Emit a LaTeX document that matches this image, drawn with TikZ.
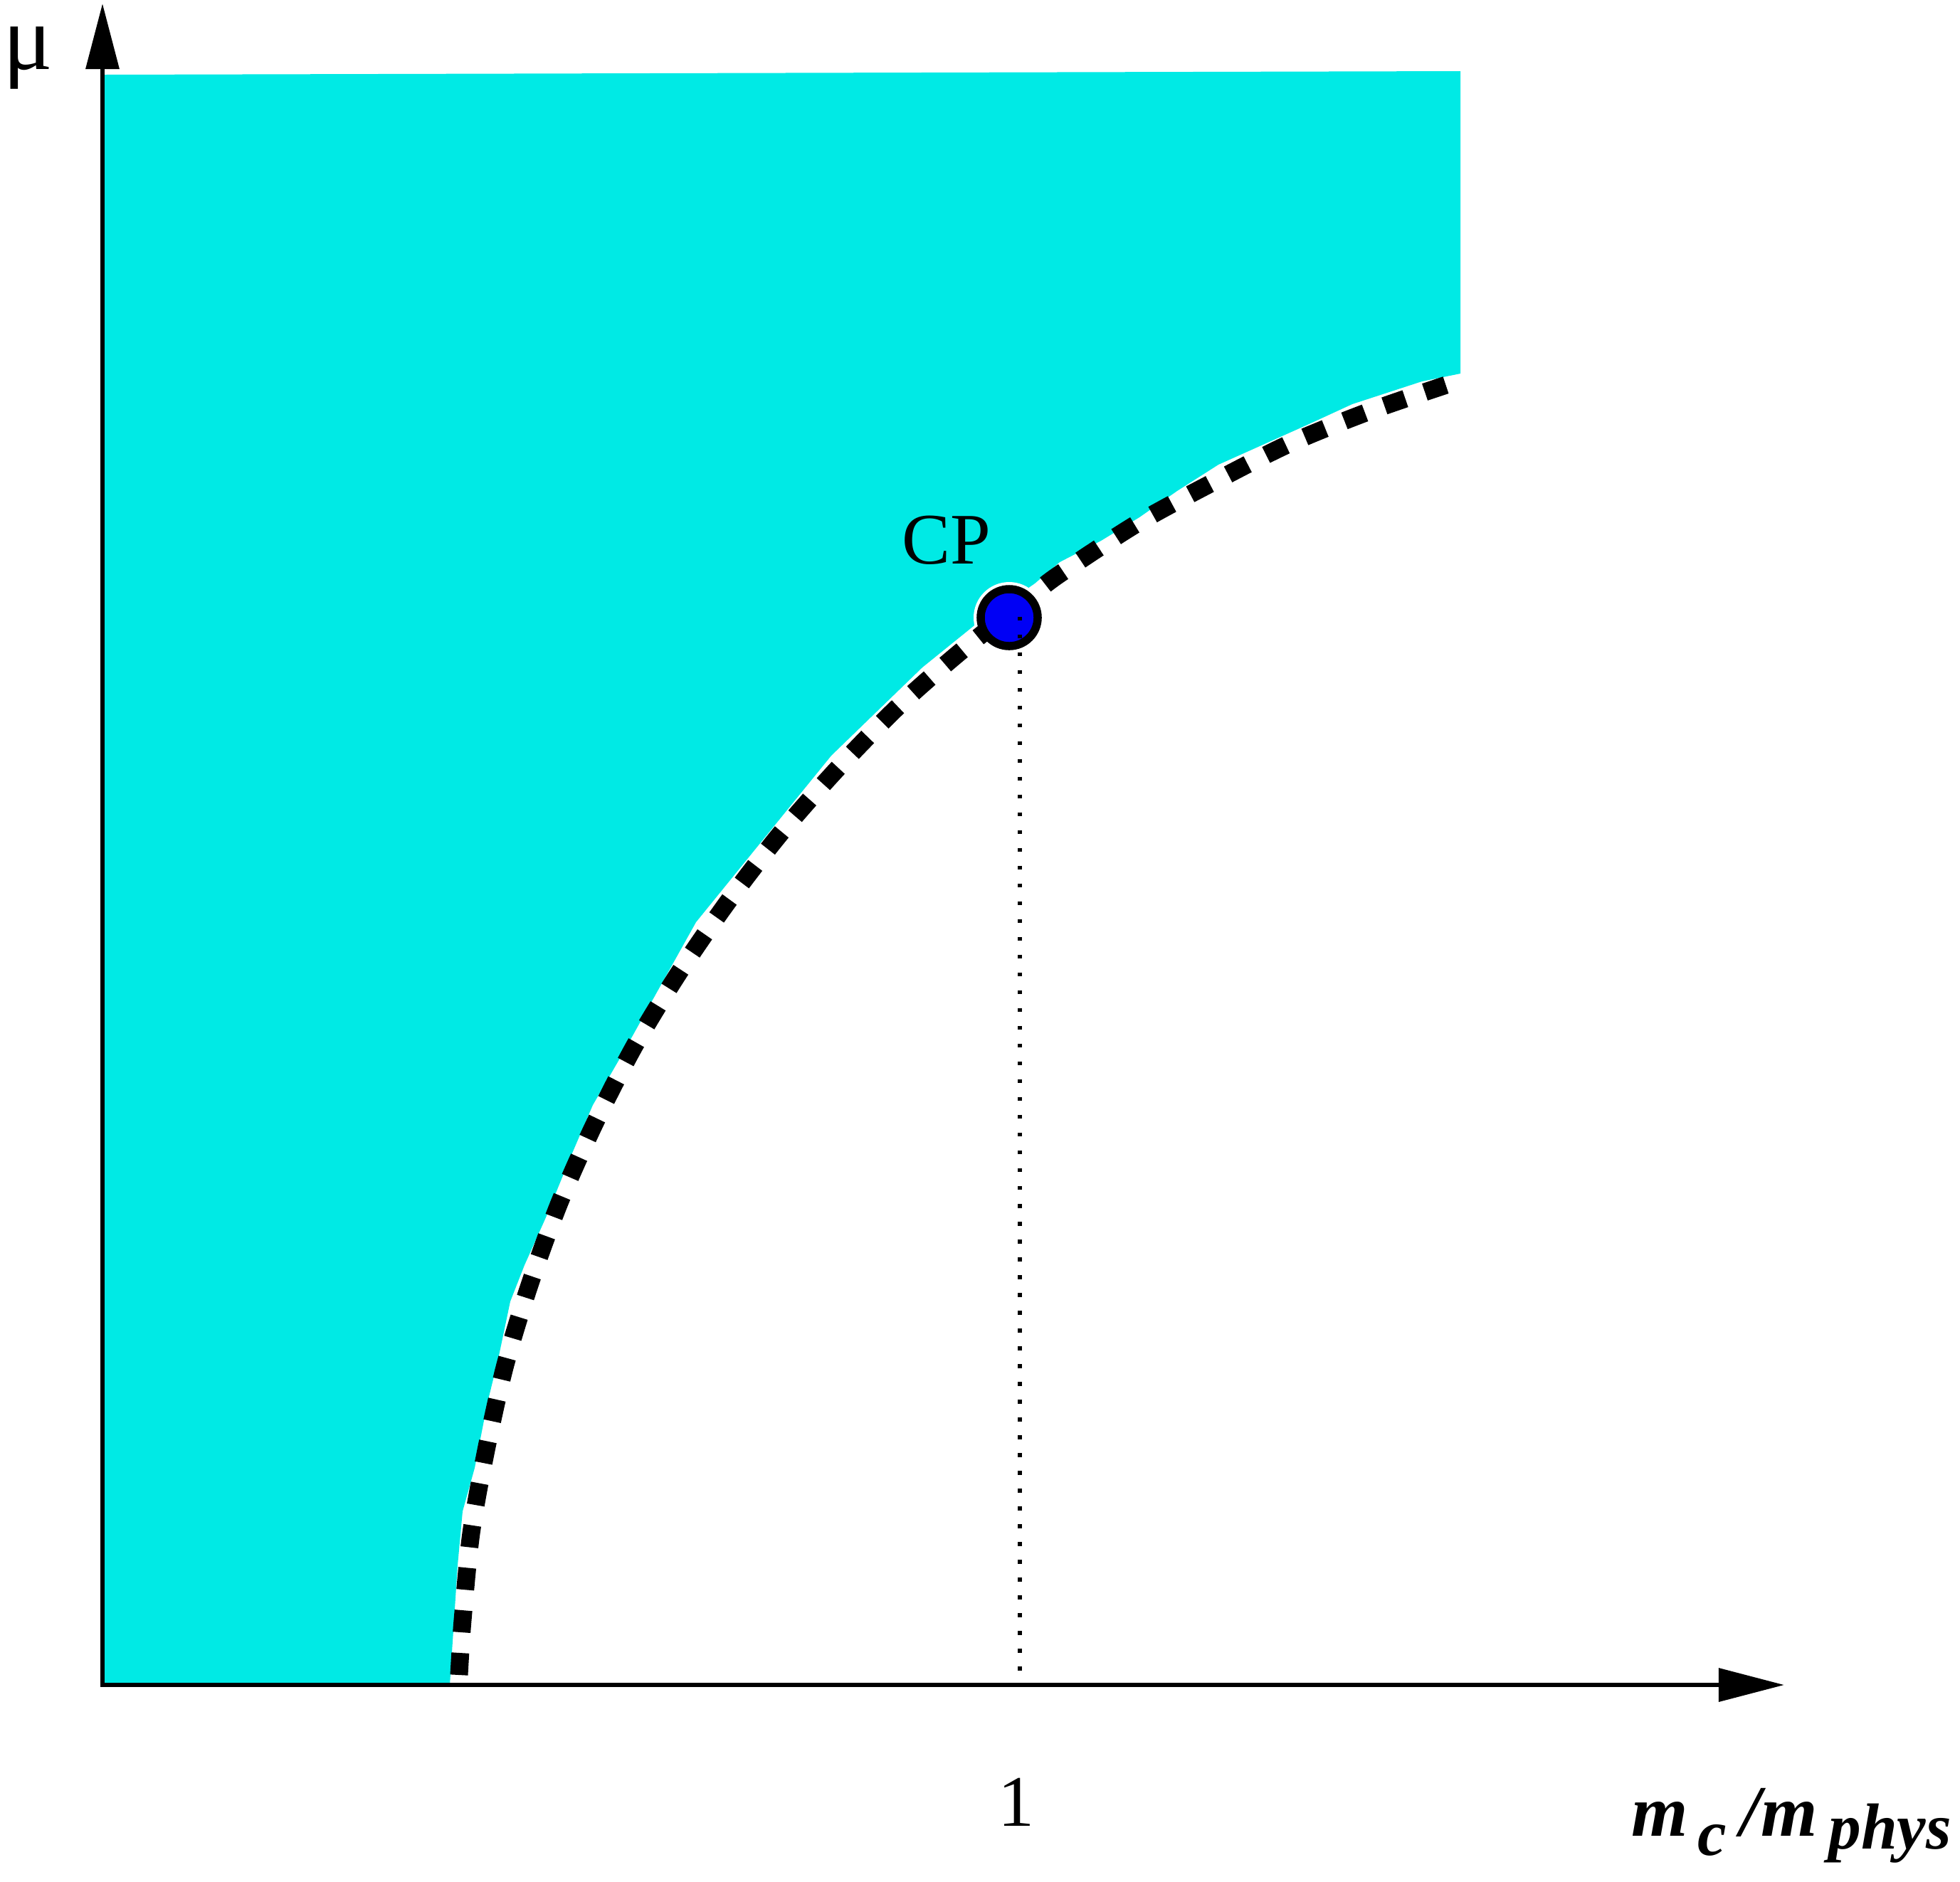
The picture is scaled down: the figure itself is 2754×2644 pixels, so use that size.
\documentclass[tikz,border=0pt]{standalone}
\usepackage{fontspec}
\setmainfont{Liberation Serif}
\usetikzlibrary{arrows.meta}
\definecolor{cyanfill}{RGB}{0,234,229}
\definecolor{cpblue}{RGB}{0,0,245}
\begin{document}
\begin{tikzpicture}[x=0.01cm,y=-0.01cm,
  axisline/.style={line width=0.65mm, line join=miter,
    {Triangle[length=9.2mm,width=4.6mm]}-{Triangle[length=9.2mm,width=4.6mm]}},
  boundary/.style={line width=2.5mm, dash pattern=on 3.1mm off 2.9mm},
  guide/.style={line width=0.55mm, dash pattern=on 0.55mm off 1.95mm},
  cpdot/.style={circle, draw=black, line width=1.15mm, fill=cpblue, minimum size=8mm, inner sep=0pt},
  lbl/.style={inner sep=0pt, font=\fontsize{29}{30}\selectfont}]
\useasboundingbox (0,0) rectangle (2754,2644);
% crossover region
\fill[cyanfill] (144,105) -- (2052,100) -- (2052,525) -- (1998,536) -- (1900,568)
  -- (1837,597) -- (1712,653) -- (1654,690) -- (1601,727) -- (1547,760)
  -- (1489,790) -- (1454,820) -- (1369,879) -- (1296,938) -- (1233,999)
  -- (1168,1062) -- (978,1296) -- (892,1450) -- (877,1477) -- (833,1553)
  -- (800,1630) -- (767,1711) -- (737,1778) -- (717,1829) -- (700,1910)
  -- (685,1971) -- (667,2063) -- (650,2124) -- (643,2200) -- (632,2368)
  -- (144,2368) -- cycle;
% white halo round the critical point
\fill[white] (1418,868) circle (50);
% first-order boundary
\draw[boundary] plot[smooth] coordinates {(645,2354) (650,2277) (662,2155) (683,2038)
  (710,1918) (745,1803) (787,1688) (837,1576) (892,1469) (954,1367) (1023,1267)
  (1097,1171) (1177,1080) (1263,992) (1353,913) (1454,833) (1496,802) (1599,735)
  (1706,677) (1813,623) (1927,577) (2050,535)};
% axes
\coordinate (O) at (144,2368);
\coordinate (ytip) at (144,5);
\coordinate (xtip) at (2507,2368);
\draw[axisline] (ytip) -- (O) -- (xtip);
% critical point
\node[cpdot] (cp) at (1418,868) {};
\coordinate (dtop) at (1433,866.5);
\coordinate (foot) at (1433,2366);
\draw[guide] (dtop) -- (foot);
% labels
\node[lbl, anchor=base west, font=\fontsize{37}{39}\selectfont] (mu) at (4,97) {μ};
\node[lbl, anchor=base] (cpl) at (1330,792) {CP};
\node[lbl, anchor=base] (one) at (1428,2566) {1};
\node[lbl, anchor=base west] (xl) at (2292,2580) {\bfseries\itshape m\hspace{1.3mm}\raisebox{-2.7mm}{\fontsize{26}{27}\selectfont c}\hspace{2mm}/m\hspace{1.6mm}\raisebox{-1.8mm}{\fontsize{26}{27}\selectfont phys}};
\end{tikzpicture}
\end{document}
